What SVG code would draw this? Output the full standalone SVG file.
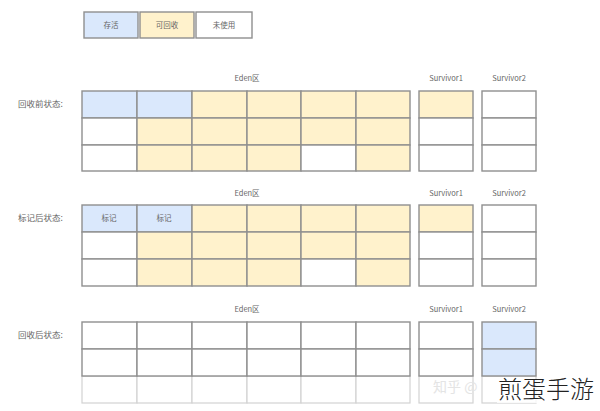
<svg xmlns="http://www.w3.org/2000/svg" width="600" height="411" viewBox="0 0 600 411">
<style>
.c{stroke:#8f8f8f;stroke-width:1.4}
.f{stroke:#d2d2d2;stroke-width:1.2}
.b{fill:#dae8fc}
.y{fill:#fff2cc}
.w{fill:#ffffff}
.t{font-family:"Noto Sans CJK SC","Liberation Sans",sans-serif;font-size:7.5px;fill:#666;text-anchor:middle}
.l{font-family:"Noto Sans CJK SC","Liberation Sans",sans-serif;font-size:8.5px;fill:#666}
</style>
<rect width="600" height="411" fill="#ffffff"/>
<g id="legend">
<rect class="c b" x="84" y="12" width="54" height="26"/>
<rect class="c y" x="140" y="12" width="54" height="26"/>
<rect class="c w" x="196" y="12" width="56" height="26"/>
<text class="t" x="111" y="28">存活</text>
<text class="t" x="167" y="28">可回收</text>
<text class="t" x="224" y="28">未使用</text>
</g>
<g id="before">
<text class="l" x="18" y="107">回收前状态:</text>
<text class="t" x="247" y="81">Eden区</text>
<text class="t" x="446" y="81">Survivor1</text>
<text class="t" x="509" y="81">Survivor2</text>
<rect class="c b" x="82" y="91" width="55" height="27"/>
<rect class="c b" x="137" y="91" width="55" height="27"/>
<rect class="c y" x="192" y="91" width="55" height="27"/>
<rect class="c y" x="247" y="91" width="54" height="27"/>
<rect class="c y" x="301" y="91" width="55" height="27"/>
<rect class="c y" x="356" y="91" width="54" height="27"/>
<rect class="c w" x="82" y="118" width="55" height="27"/>
<rect class="c y" x="137" y="118" width="55" height="27"/>
<rect class="c y" x="192" y="118" width="55" height="27"/>
<rect class="c y" x="247" y="118" width="54" height="27"/>
<rect class="c y" x="301" y="118" width="55" height="27"/>
<rect class="c y" x="356" y="118" width="54" height="27"/>
<rect class="c w" x="82" y="145" width="55" height="26"/>
<rect class="c y" x="137" y="145" width="55" height="26"/>
<rect class="c y" x="192" y="145" width="55" height="26"/>
<rect class="c y" x="247" y="145" width="54" height="26"/>
<rect class="c w" x="301" y="145" width="55" height="26"/>
<rect class="c y" x="356" y="145" width="54" height="26"/>
<rect class="c y" x="419" y="91" width="54" height="27"/>
<rect class="c w" x="419" y="118" width="54" height="27"/>
<rect class="c w" x="419" y="145" width="54" height="26"/>
<rect class="c w" x="482" y="91" width="54" height="27"/>
<rect class="c w" x="482" y="118" width="54" height="27"/>
<rect class="c w" x="482" y="145" width="54" height="26"/>
</g>
<g id="marked">
<text class="l" x="18" y="221">标记后状态:</text>
<text class="t" x="247" y="196">Eden区</text>
<text class="t" x="446" y="196">Survivor1</text>
<text class="t" x="509" y="196">Survivor2</text>
<rect class="c b" x="82" y="205" width="55" height="27"/>
<rect class="c b" x="137" y="205" width="55" height="27"/>
<text class="t" x="109" y="221">标记</text>
<text class="t" x="164" y="221">标记</text>
<rect class="c y" x="192" y="205" width="55" height="27"/>
<rect class="c y" x="247" y="205" width="54" height="27"/>
<rect class="c y" x="301" y="205" width="55" height="27"/>
<rect class="c y" x="356" y="205" width="54" height="27"/>
<rect class="c w" x="82" y="232" width="55" height="27"/>
<rect class="c y" x="137" y="232" width="55" height="27"/>
<rect class="c y" x="192" y="232" width="55" height="27"/>
<rect class="c y" x="247" y="232" width="54" height="27"/>
<rect class="c y" x="301" y="232" width="55" height="27"/>
<rect class="c y" x="356" y="232" width="54" height="27"/>
<rect class="c w" x="82" y="259" width="55" height="27"/>
<rect class="c y" x="137" y="259" width="55" height="27"/>
<rect class="c y" x="192" y="259" width="55" height="27"/>
<rect class="c y" x="247" y="259" width="54" height="27"/>
<rect class="c w" x="301" y="259" width="55" height="27"/>
<rect class="c y" x="356" y="259" width="54" height="27"/>
<rect class="c y" x="419" y="205" width="54" height="27"/>
<rect class="c w" x="419" y="232" width="54" height="27"/>
<rect class="c w" x="419" y="259" width="54" height="27"/>
<rect class="c w" x="482" y="205" width="54" height="27"/>
<rect class="c w" x="482" y="232" width="54" height="27"/>
<rect class="c w" x="482" y="259" width="54" height="27"/>
</g>
<g id="after">
<text class="l" x="18" y="338">回收后状态:</text>
<text class="t" x="247" y="312">Eden区</text>
<text class="t" x="446" y="312">Survivor1</text>
<text class="t" x="509" y="312">Survivor2</text>
<g class="f w">
<rect x="82" y="376" width="55" height="27"/>
<rect x="137" y="376" width="55" height="27"/>
<rect x="192" y="376" width="55" height="27"/>
<rect x="247" y="376" width="54" height="27"/>
<rect x="301" y="376" width="55" height="27"/>
<rect x="356" y="376" width="54" height="27"/>
<rect x="419" y="376" width="54" height="27"/>
<rect x="482" y="376" width="54" height="27"/>
</g>
<g class="c w">
<rect x="82" y="322" width="55" height="27"/>
<rect x="137" y="322" width="55" height="27"/>
<rect x="192" y="322" width="55" height="27"/>
<rect x="247" y="322" width="54" height="27"/>
<rect x="301" y="322" width="55" height="27"/>
<rect x="356" y="322" width="54" height="27"/>
<rect x="82" y="349" width="55" height="27"/>
<rect x="137" y="349" width="55" height="27"/>
<rect x="192" y="349" width="55" height="27"/>
<rect x="247" y="349" width="54" height="27"/>
<rect x="301" y="349" width="55" height="27"/>
<rect x="356" y="349" width="54" height="27"/>
<rect x="419" y="322" width="54" height="27"/>
<rect x="419" y="349" width="54" height="27"/>
</g>
<rect class="c b" x="482" y="322" width="54" height="27"/>
<rect class="c b" x="482" y="349" width="54" height="27"/>
</g>
<g id="watermark">
<text x="433" y="392" font-family="'Noto Sans CJK SC',sans-serif" font-size="14" fill="#e4e4e4">知乎 @</text>
<rect x="497" y="379" width="103" height="24" fill="#ffffff" opacity="0.8"/>
<text x="498" y="398" font-family="'Noto Sans CJK SC',sans-serif" font-size="24" font-weight="300" fill="#222">煎蛋手游</text>
</g>
</svg>
